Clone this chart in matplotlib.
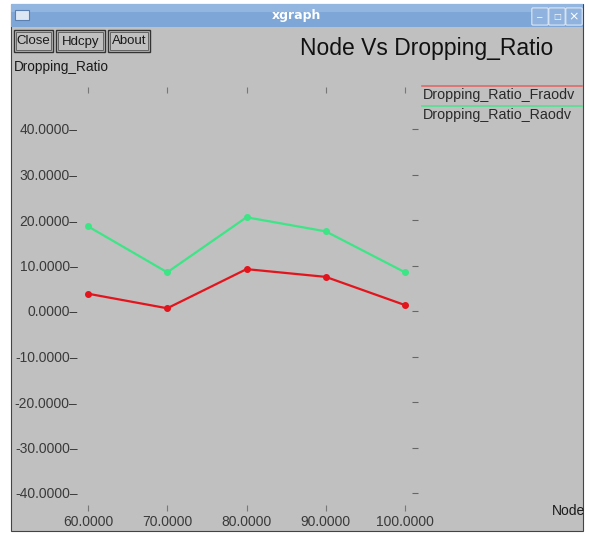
import matplotlib
matplotlib.use("Agg")
import matplotlib.pyplot as plt
from matplotlib.patches import Rectangle, FancyBboxPatch
import matplotlib.transforms as mtransforms

plt.rcParams['font.family'] = ['Liberation Sans', 'DejaVu Sans']

# ---- data ----
nodes = [60, 70, 80, 90, 100]
fraodv = [3.8, 0.6, 9.2, 7.5, 1.3]
raodv = [18.6, 8.5, 20.6, 17.5, 8.5]
series_names = ["Dropping_Ratio_Fraodv", "Dropping_Ratio_Raodv"]
x_ticks = [60, 70, 80, 90, 100]
y_ticks = [-40, -30, -20, -10, 0, 10, 20, 30, 40]
title = "Node Vs Dropping_Ratio"
ylabel = "Dropping_Ratio"
xlabel = "Node"
buttons = ["Close", "Hdcpy", "About"]

W, H = 589, 535
fig = plt.figure(figsize=(W / 100, H / 100), dpi=100)
fig.patch.set_facecolor("white")

def fx(x):
    return x / W

def fy(y):
    return 1 - y / H

def rect(x0, y0, x1, y1, z=-5, **kw):
    fig.add_artist(Rectangle((fx(x0), fy(y1)), fx(x1) - fx(x0), fy(y0) - fy(y1),
                             transform=fig.transFigure, zorder=z, **kw))

# window frame
rect(11, 4, 583, 531, facecolor="#c0c0c0", edgecolor="#444444", linewidth=0.8, z=-10)
rect(11, 4, 583, 27, facecolor="#7ea6d6", edgecolor="none", z=-9)
rect(11, 4, 583, 12, facecolor="#93b6e0", edgecolor="none", z=-9)
# window icon
rect(15, 10, 29, 20, facecolor="#dde7f3", edgecolor="#5a7fb0", linewidth=0.8)
# title-bar buttons
for x0 in (533, 550, 567):
    fig.add_artist(FancyBboxPatch((fx(x0), fy(24)), fx(14), fy(9) - fy(24),
                                  boxstyle="round,pad=0.002", transform=fig.transFigure,
                                  facecolor="#8fb2de", edgecolor="#dfe9f5", linewidth=0.8,
                                  zorder=-5))
fig.text(fx(297), fy(16), "xgraph", color="white", fontsize=9, fontweight="bold",
         ha="center", va="center", family="DejaVu Sans")
fig.text(fx(540), fy(17), "–", color="white", fontsize=7, ha="center", va="center")
fig.text(fx(557), fy(17), "□", color="white", fontsize=6, ha="center", va="center",
         family="DejaVu Sans")
fig.text(fx(574), fy(16.5), "×", color="white", fontsize=9, ha="center", va="center",
         family="DejaVu Sans")

# xgraph buttons
bx = [(14, 53), (56, 105), (108, 150)]
for (x0, x1), lab in zip(bx, buttons):
    rect(x0, 30, x1, 52, facecolor="#c0c0c0", edgecolor="#333333", linewidth=1.0)
    rect(x0 + 2, 32, x1 - 2, 50, facecolor="none", edgecolor="#555555", linewidth=0.6)
    fig.text(fx((x0 + x1) / 2), fy(41.5), lab, fontsize=9.5, color="#1a1a1a",
             ha="center", va="center")

fig.text(fx(300), fy(48), title, fontsize=16.5, color="#111111", ha="left", va="center")
fig.text(fx(14), fy(67), ylabel, fontsize=9.8, color="#1a1a1a", ha="left", va="center")
fig.text(fx(552), fy(511), xlabel, fontsize=10, color="#1a1a1a", ha="left", va="center")

# ---- plot axes ----
ax = fig.add_axes([fx(88), fy(493), fx(405) - fx(88), fy(129) - fy(493)])
ax.set_zorder(5)
ax.set_facecolor("none")
for s in ax.spines.values():
    s.set_visible(False)
ax.set_xlim(60, 100)
ax.set_ylim(-40, 40)

red = "#e3141c"
green = "#3de586"
ax.plot(nodes, fraodv, color=red, lw=1.6, marker="o", ms=4, clip_on=False, zorder=3)
ax.plot(nodes, raodv, color=green, lw=1.6, marker="o", ms=4, clip_on=False, zorder=3)

ax.set_yticks(y_ticks)
ax.set_yticklabels([f"{v:.4f}–" for v in y_ticks])
ax.set_xticks(x_ticks)
ax.set_xticklabels([f"{v:.4f}" for v in x_ticks])
ax.tick_params(axis="y", length=0, pad=7.5, labelsize=10, labelcolor="#3a3a3a")
ax.tick_params(axis="x", length=0, pad=16, labelsize=10, labelcolor="#3a3a3a")

# small tick marks at top, bottom and right
tr_x = mtransforms.blended_transform_factory(ax.transData, ax.transAxes)
tr_y = mtransforms.blended_transform_factory(ax.transAxes, ax.transData)
top_frac = (493 - 90) / (493 - 129)
bot_frac = (493 - 508) / (493 - 129)
right_frac = (415 - 88) / (405 - 88)
ax.plot(x_ticks, [top_frac] * len(x_ticks), ls="none", marker="|", ms=4,
        color="#777777", mew=0.8, transform=tr_x, clip_on=False)
ax.plot(x_ticks, [bot_frac] * len(x_ticks), ls="none", marker="|", ms=4,
        color="#777777", mew=0.8, transform=tr_x, clip_on=False)
ax.plot([right_frac] * len(y_ticks), y_ticks, ls="none", marker="_", ms=5,
        color="#666666", mew=0.8, transform=tr_y, clip_on=False)

# legend (xgraph style)
fig.add_artist(plt.Line2D([fx(422), fx(582)], [fy(86), fy(86)], color="#e06a6a",
                          lw=1.2, transform=fig.transFigure))
fig.text(fx(423), fy(94.5), series_names[0], fontsize=10.3, color="#2a2a2a",
         ha="left", va="center")
fig.add_artist(plt.Line2D([fx(422), fx(582)], [fy(106), fy(106)], color="#55e08f",
                          lw=1.2, transform=fig.transFigure))
fig.text(fx(423), fy(115), series_names[1], fontsize=10.3, color="#2a2a2a",
         ha="left", va="center")

fig.savefig("out.png", dpi=100, facecolor="white")
